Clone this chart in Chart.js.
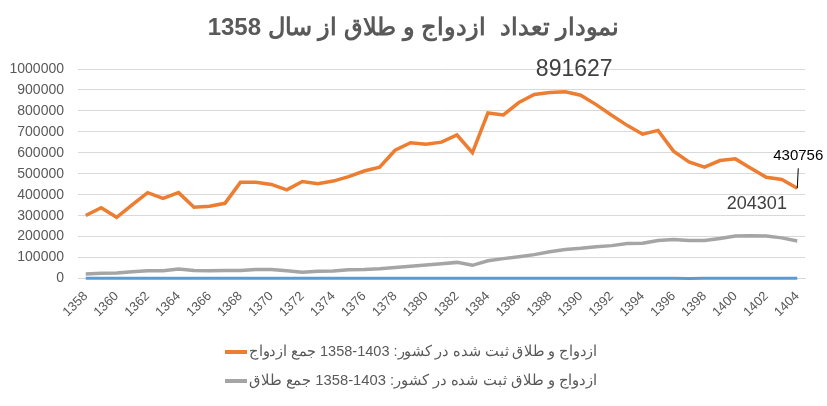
<!DOCTYPE html>
<html>
<head>
<meta charset="utf-8">
<script src="https://cdn.jsdelivr.net/npm/chart.js@4.4.1/dist/chart.umd.min.js"></script>
<style>
    html, body { margin: 0; padding: 0; background: #fff; }
    #wrap { width: 827px; height: 406px; }
</style>
</head>
<body>
<div id="wrap"><canvas id="Chart" width="827" height="406"></canvas></div>
<script>
'use strict';

let years = [1358, 1359, 1360, 1361, 1362, 1363, 1364, 1365, 1366, 1367,
    1368, 1369, 1370, 1371, 1372, 1373, 1374, 1375, 1376, 1377,
    1378, 1379, 1380, 1381, 1382, 1383, 1384, 1385, 1386, 1387,
    1388, 1389, 1390, 1391, 1392, 1393, 1394, 1395, 1396, 1397,
    1398, 1399, 1400, 1401, 1402, 1403, 1404];

let marriages = [301000, 338000, 292000, 351000, 410000, 383000, 410000, 340000, 345000, 359000,
    459000, 459000, 449000, 423000, 463000, 452000, 465000, 486000, 513000, 531000,
    612000, 648000, 641000, 651000, 685000, 601000, 790000, 781000, 840000, 878000,
    888000, 891627, 875000, 830000, 779000, 731000, 689000, 707000, 608000, 556000,
    532000, 563000, 571000, 526000, 483000, 473000, 430756];

let divorces = [21000, 25000, 26000, 32000, 37000, 37000, 45000, 38000, 37000, 38000,
    38000, 43000, 43000, 37000, 30000, 35000, 36000, 42000, 43000, 47000,
    53000, 59000, 64000, 70000, 77000, 63000, 85000, 95000, 104000, 114000,
    128000, 138000, 144000, 152000, 157000, 167000, 168000, 181000, 186000, 181000,
    181000, 191000, 203000, 204301, 203000, 194000, 179000];

// third series in the sheet, sits on the zero line
let yearColumn = [1358, 1359, 1360, 1361, 1362, 1363, 1364, 1365, 1366, 1367,
    1368, 1369, 1370, 1371, 1372, 1373, 1374, 1375, 1376, 1377,
    1378, 1379, 1380, 1381, 1382, 1383, 1384, 1385, 1386, 1387,
    1388, 1389, 1390, 1391, 1392, 1393, 1394, 1395, 1396, 0,
    1398, 1399, 1400, 1401, 1402, 1403, 1404];

let yTicks = [0, 100000, 200000, 300000, 400000, 500000, 600000, 700000, 800000, 900000, 1000000];

let titleText = 'نمودار تعداد  ازدواج و طلاق از سال 1358';
// range typed high-low so the canvas bidi shows it as 1358-1403
let marriageLabel = 'ازدواج و طلاق ثبت شده در کشور: 1403-1358 جمع ازدواج';
let divorceLabel = 'ازدواج و طلاق ثبت شده در کشور: 1403-1358 جمع طلاق';

// labels written next to single points: dataset, index, offset, font size, leader line
let pointNotes = [
    { ds: 0, idx: 31, text: '891627', dx: 9, dy: -22, size: 23, color: '#404040', leader: false },
    { ds: 0, idx: 46, text: '430756', dx: 1, dy: -32, size: 15, color: '#000000', leader: true },
    { ds: 1, idx: 43, text: '204301', dx: 6, dy: -32, size: 18, color: '#404040', leader: false }
];

let textGray = '#595959';

let notesPlugin = {
    id: 'notes',
    afterDatasetsDraw(chart) {
        let ctx = chart.ctx;
        ctx.save();
        for (let i = 0; i < pointNotes.length; i++) {
            let n = pointNotes[i];
            let pt = chart.getDatasetMeta(n.ds).data[n.idx];
            if (n.leader) {
                ctx.strokeStyle = '#000000';
                ctx.lineWidth = 1;
                ctx.beginPath();
                ctx.moveTo(pt.x, pt.y);
                ctx.lineTo(pt.x + 1, pt.y + n.dy + 12);
                ctx.stroke();
            }
            ctx.fillStyle = n.color;
            ctx.font = n.size + 'px "Liberation Sans", Arial, sans-serif';
            ctx.textAlign = 'center';
            ctx.textBaseline = 'middle';
            ctx.fillText(n.text, pt.x + n.dx, pt.y + n.dy);
        }
        ctx.restore();
    }
};

// title and the two legend rows are drawn by hand so they sit where the sheet put them
let framePlugin = {
    id: 'frame',
    afterDraw(chart) {
        let ctx = chart.ctx;
        ctx.save();
        ctx.fillStyle = textGray;
        ctx.font = 'bold 24px "Liberation Sans", Arial, sans-serif';
        ctx.textAlign = 'center';
        ctx.textBaseline = 'middle';
        ctx.fillText(titleText, chart.width / 2, 28);

        let rows = [
            { color: '#ED7D31', text: marriageLabel, y: 352 },
            { color: '#A5A5A5', text: divorceLabel, y: 381 }
        ];
        ctx.font = '15px "Liberation Sans Narrow", "Liberation Sans", sans-serif';
        ctx.textAlign = 'left';
        for (let i = 0; i < rows.length; i++) {
            let r = rows[i];
            ctx.strokeStyle = r.color;
            ctx.lineWidth = 4;
            ctx.beginPath();
            ctx.moveTo(225, r.y);
            ctx.lineTo(247, r.y);
            ctx.stroke();
            ctx.fillStyle = textGray;
            ctx.fillText(r.text, 249, r.y, 348);
        }
        ctx.restore();
    }
};

let ctx = document.getElementById('Chart').getContext('2d');
let chart = new Chart(ctx, {
    type: 'line',
    data: {
        labels: years,
        datasets: [{
                label: marriageLabel,
                data: marriages,
                borderColor: '#ED7D31',
                borderWidth: 3.5,
                pointRadius: 0,
                tension: 0
            },
            {
                label: divorceLabel,
                data: divorces,
                borderColor: '#A5A5A5',
                borderWidth: 3.5,
                pointRadius: 0,
                tension: 0
            },
            {
                label: 'year',
                data: yearColumn,
                borderColor: '#5B9BD5',
                borderWidth: 3,
                pointRadius: 0,
                tension: 0,
                clip: 6
            }
        ]
    },
    options: {
        responsive: false,
        animation: false,
        layout: { padding: { left: 0, right: 22, top: 69, bottom: 84 } },
        plugins: {
            legend: { display: false },
            tooltip: { enabled: false },
            title: { display: false }
        },
        scales: {
            x: {
                offset: true,
                grid: { display: false },
                border: { display: true, color: '#D9D9D9' },
                ticks: {
                    autoSkip: false,
                    maxRotation: 45,
                    minRotation: 45,
                    color: textGray,
                    padding: 2,
                    font: { family: '"Liberation Sans", Arial, sans-serif', size: 13 },
                    callback: function(value, index) {
                        return index % 2 === 0 ? years[index] : '';
                    }
                }
            },
            y: {
                min: 0,
                max: 1000000,
                afterBuildTicks: function(axis) {
                    axis.ticks = yTicks.map(function(v) { return { value: v }; });
                },
                afterFit: function(axis) {
                    axis.width = 78;
                },
                grid: { color: '#D9D9D9', drawTicks: false },
                border: { display: false },
                ticks: {
                    color: textGray,
                    padding: 14,
                    font: { family: '"Liberation Sans", Arial, sans-serif', size: 14 },
                    callback: function(value) { return String(value); }
                }
            }
        }
    },
    plugins: [notesPlugin, framePlugin]
});
</script>
</body>
</html>
